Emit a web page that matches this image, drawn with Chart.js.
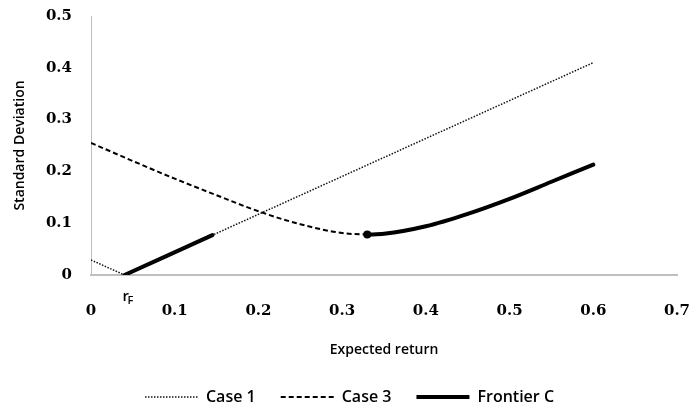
<!DOCTYPE html>
<html>
<head>
<meta charset="utf-8">
<script src="https://cdn.jsdelivr.net/npm/chart.js@4/dist/chart.umd.min.js"></script>
<style>
    html, body { margin: 0; padding: 0; background: #fff; }
    #wrap { width: 693px; height: 412px; }
</style>
</head>
<body>
<div id="wrap"><canvas id="frontierChart"></canvas></div>
<script>
// Values
const riskFree = 0.04;

const caseOneX = [0, 0.04, 0.6];
const caseOneY = [0.029, 0, 0.41];

const caseThreeX = [0, 0.05, 0.1, 0.15, 0.2, 0.25, 0.3, 0.33];
const caseThreeY = [0.255, 0.22, 0.186, 0.154, 0.123, 0.098, 0.081, 0.078];

// null splits the frontier into its two pieces
const frontierX = [0.04, 0.145, 0.2, 0.33, 0.35, 0.4, 0.45, 0.5, 0.55, 0.6];
const frontierY = [0, 0.077, null, 0.078, 0.0795, 0.094, 0.118, 0.147, 0.18, 0.213];
const frontierDots = [0, 0, 0, 4, 0, 0, 0, 0, 0, 0];

const xTicks = [0, 0.1, 0.2, 0.3, 0.4, 0.5, 0.6, 0.7];
const yTicks = [0, 0.1, 0.2, 0.3, 0.4, 0.5];

const toPoints = (xs, ys) => xs.map((x, i) => ({ x: x, y: ys[i] }));

const tickFont = { family: '"DejaVu Serif"', size: 15, weight: 'bold' };
const labelFont = { family: '"Open Sans"', size: 14, weight: '600' };
const legendFont = { family: '"Open Sans"', size: 16, weight: '600' };

// small "r" with subscript "F" under the axis; legend nudged down
const riskFreeLabel = {
    id: 'riskFreeLabel',
    afterLayout(chart) {
        chart.legend.top += 3;
        chart.legend.bottom += 3;
    },
    afterDraw(chart) {
        const ctx = chart.ctx;
        const x = chart.scales.x.getPixelForValue(riskFree);
        const y = chart.chartArea.bottom;
        ctx.save();
        ctx.fillStyle = '#000';
        ctx.textBaseline = 'alphabetic';
        ctx.font = '600 15px "Open Sans"';
        ctx.fillText('r', x - 2, y + 26);
        ctx.font = '600 11px "Open Sans"';
        ctx.fillText('F', x + 3, y + 29);
        ctx.restore();
    }
};

// legend samples taken from the line style, not the point style
function legendLabels(chart) {
    return chart.data.datasets.map((ds, i) => ({
        text: ds.label,
        datasetIndex: i,
        hidden: false,
        pointStyle: 'line',
        strokeStyle: ds.borderColor,
        fillStyle: ds.borderColor,
        fontColor: '#000',
        lineWidth: ds.borderWidth,
        lineDash: ds.borderDash || [],
        lineCap: 'butt'
    }));
}

new Chart(document.getElementById('frontierChart'), {
    type: 'scatter',
    data: {
        datasets: [
            {
                label: 'Case 1',
                data: toPoints(caseOneX, caseOneY),
                showLine: true,
                borderColor: '#111',
                borderWidth: 1.5,
                borderDash: [1.5, 1.5],
                pointRadius: 0,
                tension: 0
            },
            {
                label: 'Case 3',
                data: toPoints(caseThreeX, caseThreeY),
                showLine: true,
                borderColor: '#000',
                borderWidth: 2,
                borderDash: [5, 3],
                pointRadius: 0,
                cubicInterpolationMode: 'monotone'
            },
            {
                label: 'Frontier C',
                data: toPoints(frontierX, frontierY),
                showLine: true,
                spanGaps: false,
                borderColor: '#000',
                backgroundColor: '#000',
                borderWidth: 4,
                borderCapStyle: 'round',
                pointRadius: frontierDots,
                pointHoverRadius: frontierDots,
                pointBorderWidth: 0,
                cubicInterpolationMode: 'monotone'
            }
        ]
    },
    options: {
        responsive: true,
        maintainAspectRatio: false,
        animation: false,
        layout: { padding: { left: 6, right: 0, top: 0, bottom: 0 } },
        plugins: {
            legend: {
                position: 'bottom',
                labels: {
                    usePointStyle: true,
                    pointStyleWidth: 53,
                    padding: 25,
                    color: '#000',
                    font: legendFont,
                    generateLabels: legendLabels
                }
            },
            tooltip: { enabled: false }
        },
        scales: {
            x: {
                type: 'linear',
                min: 0,
                max: 0.7,
                afterBuildTicks: scale => { scale.ticks = xTicks.map(v => ({ value: v })); },
                afterFit: scale => {
                    scale.height = 86;
                    scale.paddingLeft = 0;
                    scale.paddingRight = 16;
                },
                grid: { display: false, drawTicks: false, tickLength: 0 },
                border: { display: true, color: '#bfbfbf', width: 2 },
                ticks: { color: '#000', font: tickFont, padding: 27 },
                title: {
                    display: true,
                    text: 'Expected return',
                    color: '#000',
                    font: labelFont,
                    padding: { top: 0, bottom: 3 }
                }
            },
            y: {
                type: 'linear',
                min: 0,
                max: 0.5,
                afterBuildTicks: scale => { scale.ticks = yTicks.map(v => ({ value: v })); },
                afterFit: scale => {
                    scale.width = 85;
                    scale.paddingTop = 16;
                    scale.paddingBottom = 0;
                },
                grid: { display: false, drawTicks: false, tickLength: 0 },
                border: { display: true, color: '#bfbfbf', width: 1 },
                ticks: { color: '#000', font: tickFont, padding: 19 },
                title: {
                    display: true,
                    text: 'Standard Deviation',
                    color: '#000',
                    font: labelFont,
                    padding: { top: 6, bottom: 0 }
                }
            }
        }
    },
    plugins: [riskFreeLabel]
});
</script>
</body>
</html>
